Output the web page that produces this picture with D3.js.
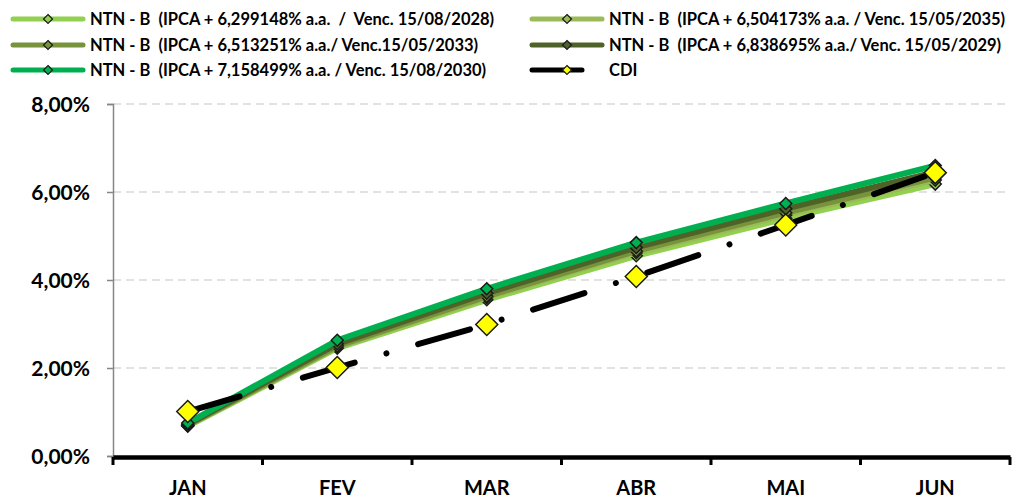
<!DOCTYPE html>
<html>
<head>
<meta charset="utf-8">
<script src="https://cdn.jsdelivr.net/npm/d3@7"></script>
<style>
  body { margin: 0; background: #fff; }
  text { font-family: Lato, "Liberation Sans", sans-serif; font-weight: bold; fill: #000; }
</style>
</head>
<body>
<div id="chart"></div>
<script>
  var svgWidth = 1014;
  var svgHeight = 499;

  // data (cumulative return, %)
  var months = ["JAN", "FEV", "MAR", "ABR", "MAI", "JUN"];
  var seriesNames = [
    "NTN - B  (IPCA + 6,299148% a.a.  /  Venc. 15/08/2028)",
    "NTN - B  (IPCA + 6,504173% a.a. / Venc. 15/05/2035)",
    "NTN - B  (IPCA + 6,513251% a.a./ Venc.15/05/2033)",
    "NTN - B  (IPCA + 6,838695% a.a./ Venc. 15/05/2029)",
    "NTN - B  (IPCA + 7,158499% a.a. / Venc. 15/08/2030)",
    "CDI"
  ];
  var ntnb2028 = [0.68, 2.45, 3.55, 4.55, 5.40, 6.18];
  var ntnb2035 = [0.69, 2.48, 3.60, 4.62, 5.48, 6.27];
  var ntnb2033 = [0.70, 2.50, 3.63, 4.66, 5.53, 6.33];
  var ntnb2029 = [0.72, 2.55, 3.70, 4.74, 5.62, 6.45];
  var ntnb2030 = [0.75, 2.63, 3.80, 4.85, 5.74, 6.60];
  var cdi = [1.01, 2.01, 2.99, 4.08, 5.25, 6.44];
  var yTicks = [0, 2, 4, 6, 8];

  var seriesValues = [ntnb2028, ntnb2035, ntnb2033, ntnb2029, ntnb2030, cdi];
  var colors = ["#92D050", "#9BBB59", "#77933C", "#4F6228", "#00B050", "#000000"];

  var margin = { top: 104, right: 4, bottom: 43, left: 113 };
  var width = svgWidth - margin.left - margin.right;
  var height = svgHeight - margin.top - margin.bottom;

  var svg = d3.select("#chart")
    .append("svg")
    .attr("width", svgWidth)
    .attr("height", svgHeight);

  var chartGroup = svg.append("g")
    .attr("transform", `translate(${margin.left}, ${margin.top})`);

  var xScale = d3.scaleBand()
    .domain(months)
    .range([0, width])
    .padding(0);

  var yScale = d3.scaleLinear()
    .domain([0, 8])
    .range([height, 0]);

  var xc = d => xScale(d) + xScale.bandwidth() / 2;

  // gridlines
  chartGroup.append("g").selectAll("line")
    .data(yTicks.filter(d => d > 0))
    .enter()
    .append("line")
    .attr("x1", 0)
    .attr("x2", width)
    .attr("y1", d => yScale(d))
    .attr("y2", d => yScale(d))
    .attr("stroke", "#D9D9D9")
    .attr("stroke-width", 1.5)
    .attr("stroke-dasharray", "8,5");

  // y axis
  var leftAxis = d3.axisLeft(yScale)
    .tickValues(yTicks)
    .tickSize(6)
    .tickPadding(17)
    .tickFormat(d => d.toFixed(2).replace(".", ",") + "%");

  var yAxisG = chartGroup.append("g").call(leftAxis);
  yAxisG.select(".domain").attr("stroke", "#868686").attr("stroke-width", 1.5);
  yAxisG.selectAll(".tick line").attr("stroke", "#868686").attr("stroke-width", 1.5);
  yAxisG.selectAll("text").style("font-size", "21px").attr("dy", "0.36em");

  // x axis
  var bottomAxis = d3.axisBottom(xScale).tickSize(0).tickPadding(24);
  var xAxisG = chartGroup.append("g")
    .attr("transform", `translate(0, ${height + 1})`)
    .call(bottomAxis);
  xAxisG.select(".domain").attr("stroke", "#000").attr("stroke-width", 4.5);
  xAxisG.selectAll("text").style("font-size", "20px");

  // boundary ticks
  xAxisG.append("g").selectAll("line")
    .data(months.concat(["end"]))
    .enter()
    .append("line")
    .attr("x1", (d, i) => i * xScale.bandwidth())
    .attr("x2", (d, i) => i * xScale.bandwidth())
    .attr("y1", 0)
    .attr("y2", 8)
    .attr("stroke", "#000")
    .attr("stroke-width", 3);

  var line = d3.line()
    .x((d, i) => xc(months[i]))
    .y(d => yScale(d));

  function diamond(r) {
    return `M0,${-r}L${r},0L0,${r}L${-r},0Z`;
  }

  // series lines
  seriesValues.forEach(function(vals, s) {
    var isCdi = s === 5;
    chartGroup.append("path")
      .datum(vals)
      .attr("d", line)
      .attr("fill", "none")
      .attr("stroke", colors[s])
      .attr("stroke-width", 6)
      .attr("stroke-linecap", isCdi ? "round" : "butt")
      .attr("stroke-linejoin", "round")
      .attr("stroke-dasharray", isCdi ? "54,33,0.01,33" : null);

    chartGroup.append("g").selectAll("path")
      .data(vals)
      .enter()
      .append("path")
      .attr("transform", (d, i) => `translate(${xc(months[i])}, ${yScale(d)})`)
      .attr("d", diamond(isCdi ? 11 : 6))
      .attr("fill", isCdi ? "#FFFF00" : colors[s])
      .attr("stroke", "#1a1a1a")
      .attr("stroke-width", 1.5);
  });

  // legend
  var legendPos = [
    { x: 13, y: 19 }, { x: 532, y: 19 },
    { x: 13, y: 45 }, { x: 532, y: 45 },
    { x: 13, y: 70 }, { x: 532, y: 70 }
  ];

  var legend = svg.append("g");
  seriesNames.forEach(function(name, s) {
    var p = legendPos[s];
    var isCdi = s === 5;
    var len = isCdi ? 50 : 70;
    legend.append("line")
      .attr("x1", p.x)
      .attr("x2", p.x + len)
      .attr("y1", p.y)
      .attr("y2", p.y)
      .attr("stroke", colors[s])
      .attr("stroke-width", 5)
      .attr("stroke-linecap", "round");
    legend.append("path")
      .attr("transform", `translate(${p.x + 35}, ${p.y})`)
      .attr("d", diamond(4.5))
      .attr("fill", isCdi ? "#FFFF00" : colors[s])
      .attr("stroke", "#1a1a1a")
      .attr("stroke-width", 1.2);
    legend.append("text")
      .attr("x", p.x + 77)
      .attr("y", p.y + 6)
      .attr("xml:space", "preserve")
      .style("white-space", "pre")
      .style("font-size", "16.5px")
      .text(name);
  });
</script>
</body>
</html>
